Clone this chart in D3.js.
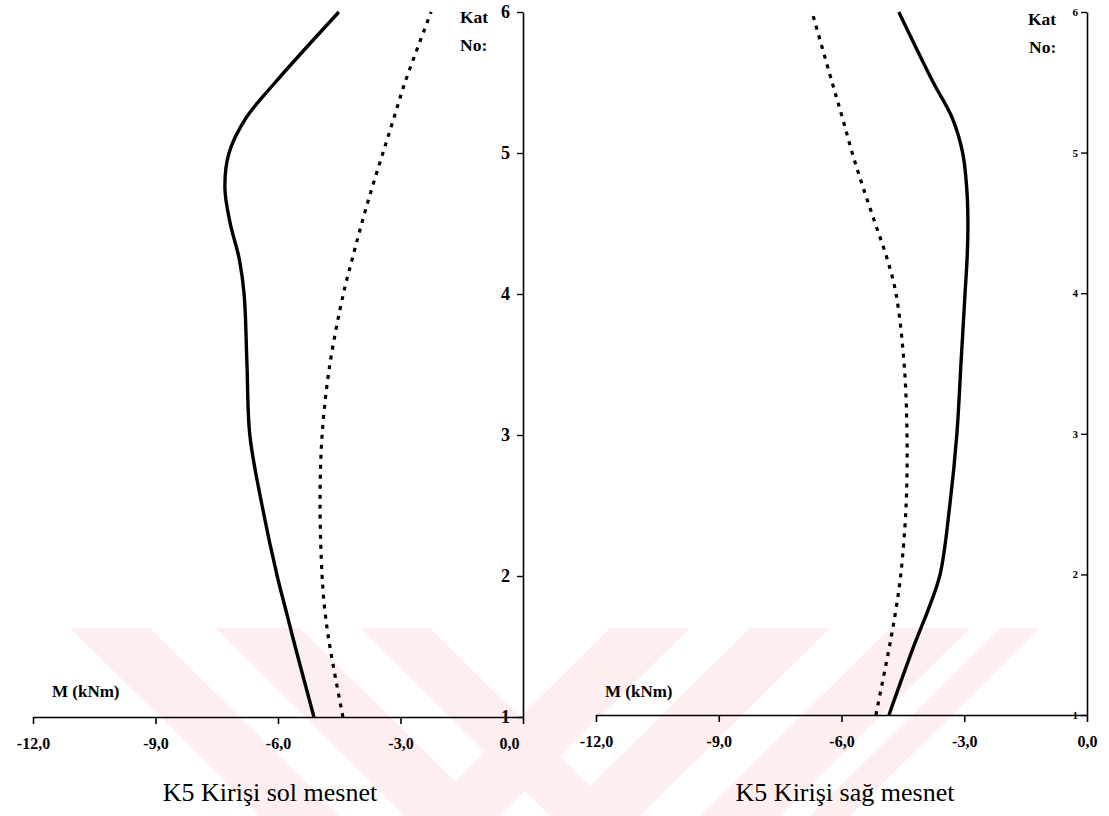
<!DOCTYPE html>
<html><head><meta charset="utf-8">
<script src="https://cdn.jsdelivr.net/npm/d3@7/dist/d3.min.js"></script>
<style>
body{margin:0;background:#fff;}
svg text{font-family:"Liberation Serif","Times New Roman",serif;}
</style></head>
<body><svg id="c" width="1109" height="816"></svg>
<script>
// Floor levels (Kat No)
const floors = [1, 1.5, 1.75, 2, 2.5, 3, 3.5, 4, 4.25, 4.5, 4.75, 5, 5.25, 5.5, 6];
// Left panel: K5 Kirişi sol mesnet
const solSolid  = [-5.12, -5.58, -5.80, -6.02, -6.39, -6.69, -6.76, -6.83, -6.95, -7.17, -7.30, -7.20, -6.78, -6.07, -4.51];
const solDotted = [-4.41, -4.73, -4.85, -4.92, -4.97, -4.92, -4.73, -4.40, -4.18, -3.95, -3.70, -3.43, -3.16, -2.89, -2.25];
// Right panel: K5 Kirişi sağ mesnet
const sagSolid  = [-4.84, -4.22, -3.88, -3.59, -3.35, -3.18, -3.08, -2.98, -2.93, -2.91, -2.94, -3.04, -3.30, -3.76, -4.60];
const sagDotted = [-5.16, -4.82, -4.67, -4.55, -4.42, -4.40, -4.47, -4.67, -4.89, -5.18, -5.47, -5.74, -5.98, -6.23, -6.72];
const xTicks = [-12, -9, -6, -3, 0];
const yTicks = [1, 2, 3, 4, 5, 6];
const titles = ["K5 Kirişi sol mesnet", "K5 Kirişi sağ mesnet"];
const xLabel = "M (kNm)";

const svg = d3.select("#c");
const SERIF = '"Liberation Serif","Times New Roman",serif';

// faint background watermark (decorative)
const wm = svg.append("g").attr("fill", "#fdeef0");
const bandsL = [[70,150],[215,300],[360,430]];
const bandsR = [[610,690],[750,830],[890,970],[1000,1040]];
bandsL.forEach(([a,b])=>{
  wm.append("path").attr("d",`M${a},628 L${b},628 L${b+190},816 L${a+190},816 Z`);
});
bandsR.forEach(([a,b])=>{
  wm.append("path").attr("d",`M${a},628 L${b},628 L${b-190},816 L${a-190},816 Z`);
});

const panels = [
  {x0:33, x1:523, yb:717, yt:12, solid:solSolid, dotted:solDotted, title:titles[0], tcx:270,
   yFont:18, katX:460, labX:52, big:true},
  {x0:596, x1:1087, yb:715, yt:12, solid:sagSolid, dotted:sagDotted, title:titles[1], tcx:845,
   yFont:11, katX:1028, labX:605, big:false}
];

const fmt = v => d3.format(".1f")(v).replace(".", ",").replace("−","-");

panels.forEach(p => {
  const x = d3.scaleLinear().domain([-12, 0]).range([p.x0, p.x1]);
  const y = d3.scaleLinear().domain([1, 6]).range([p.yb, p.yt]);
  const g = svg.append("g");

  // x axis
  const xa = g.append("g").attr("transform", `translate(0,${p.yb})`)
    .call(d3.axisBottom(x).tickValues(xTicks).tickSize(7).tickSizeOuter(0).tickFormat(fmt));
  xa.select(".domain").attr("stroke-width", 1.6);
  xa.selectAll(".tick line").attr("stroke-width", 1.6);
  xa.selectAll(".tick text").style("font-family", SERIF).attr("font-size", 16).attr("font-weight", "bold")
    .attr("fill", "#000").attr("dy", "1.4em")
    .attr("dx", d => (p.big && d===0) ? -14 : 0);

  // y axis
  const ya = g.append("g").attr("transform", `translate(${p.x1},0)`)
    .call(d3.axisLeft(y).tickValues(yTicks).tickSize(6).tickSizeOuter(0).tickFormat(d3.format("d")));
  ya.select(".domain").attr("stroke-width", 1.6);
  ya.selectAll(".tick text").style("font-family", SERIF).attr("font-size", p.yFont).attr("font-weight", "bold")
    .attr("fill", "#000").attr("x", p.big ? -13 : -9);
  ya.selectAll(".tick line").attr("stroke-width", 1.4);

  // Kat No:
  g.append("text").attr("x", p.katX).attr("y", p.big ? 23 : 25).attr("font-size", 17.5)
    .attr("font-weight", "bold").text("Kat");
  g.append("text").attr("x", p.katX + (p.big ? 0 : 1)).attr("y", p.big ? 51 : 53).attr("font-size", 17.5)
    .attr("font-weight", "bold").text("No:");

  // x label
  g.append("text").attr("x", p.labX).attr("y", 697).attr("font-size", 17)
    .attr("font-weight", "bold").text(xLabel);

  // title
  g.append("text").attr("x", p.tcx).attr("y", 801).attr("text-anchor", "middle")
    .attr("font-size", 26).text(p.title);

  const line = arr => d3.line().curve(d3.curveCatmullRom.alpha(0.5))
    .x((d,i)=>x(arr[i])).y((d,i)=>y(floors[i]))(floors);

  g.append("path").attr("d", line(p.solid)).attr("fill","none").attr("stroke","#000")
    .attr("stroke-width", 3.4);
  g.append("path").attr("d", line(p.dotted)).attr("fill","none").attr("stroke","#000")
    .attr("stroke-width", 3.2).attr("stroke-dasharray", "4,6");
});
</script></body></html>
